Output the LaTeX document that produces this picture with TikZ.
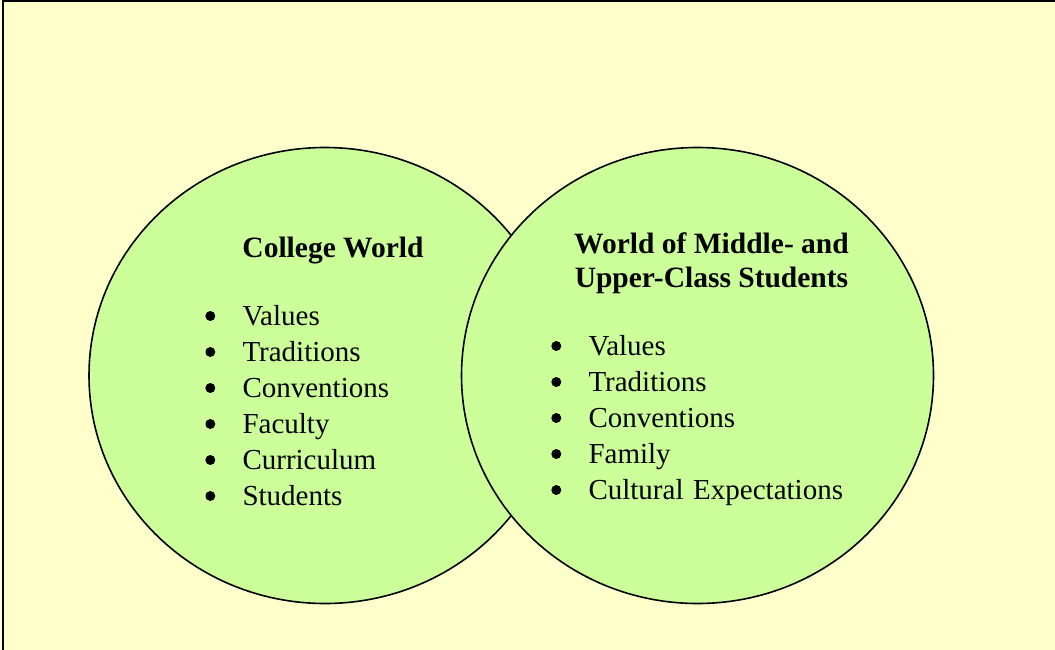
\documentclass[tikz,border=0pt]{standalone}
\usepackage{fontspec}
\setmainfont{Liberation Serif}
\usetikzlibrary{shapes.geometric}
\definecolor{paper}{HTML}{FFFFCC}
\definecolor{leaf}{HTML}{CCFF99}
\tikzstyle{world} = [ellipse, minimum width=472pt, minimum height=456pt, draw=black, line width=1.6pt, fill=leaf]
\tikzstyle{title} = [font=\fontsize{29.5}{34}\selectfont\bfseries, align=center, inner sep=0pt]
\tikzstyle{entry} = [text width=300pt, text height=20pt, text depth=7pt, inner sep=0pt, align=left]
\newcommand{\bul}{\hspace*{38.5pt}}

\begin{document}
\begin{tikzpicture}[x=1pt, y=-1pt, node distance=36pt, font=\fontsize{29}{36}\selectfont]
\useasboundingbox (0,0) rectangle (1055,650);
\clip (0,0) rectangle (1055,650);
\fill [paper] (0,0) rectangle (1055,650);
\draw [line width=2pt] (3,1) rectangle (1080,680);

\node (college) [world] at (325,375.5) {};
\node (upper)   [world] at (697.5,375.5) {};

\node (collegetitle) [title, anchor=base] at (333,257) {College World};
\node (uppertitle)   [title, anchor=base] at (711.5,287) {World of Middle- and\\Upper-Class Students};

\node (col1) [entry] at (354,318.5) {\bul Values};
\node (col2) [entry, below of=col1] {\bul Traditions};
\node (col3) [entry, below of=col2] {\bul Conventions};
\node (col4) [entry, below of=col3] {\bul Faculty};
\node (col5) [entry, below of=col4] {\bul Curriculum};
\node (col6) [entry, below of=col5] {\bul Students};

\node (upp1) [entry] at (700,348.5) {\bul Values};
\node (upp2) [entry, below of=upp1] {\bul Traditions};
\node (upp3) [entry, below of=upp2] {\bul Conventions};
\node (upp4) [entry, below of=upp3] {\bul Family};
\node (upp5) [entry, below of=upp4] {\bul Cultural Expectations};

% bullet dots
\foreach \n in {col1,col2,col3,col4,col5,col6,upp1,upp2,upp3,upp4,upp5}
  \fill ([shift={(6.5,-2.5)}]\n.west) circle (5);
\end{tikzpicture}
\end{document}
